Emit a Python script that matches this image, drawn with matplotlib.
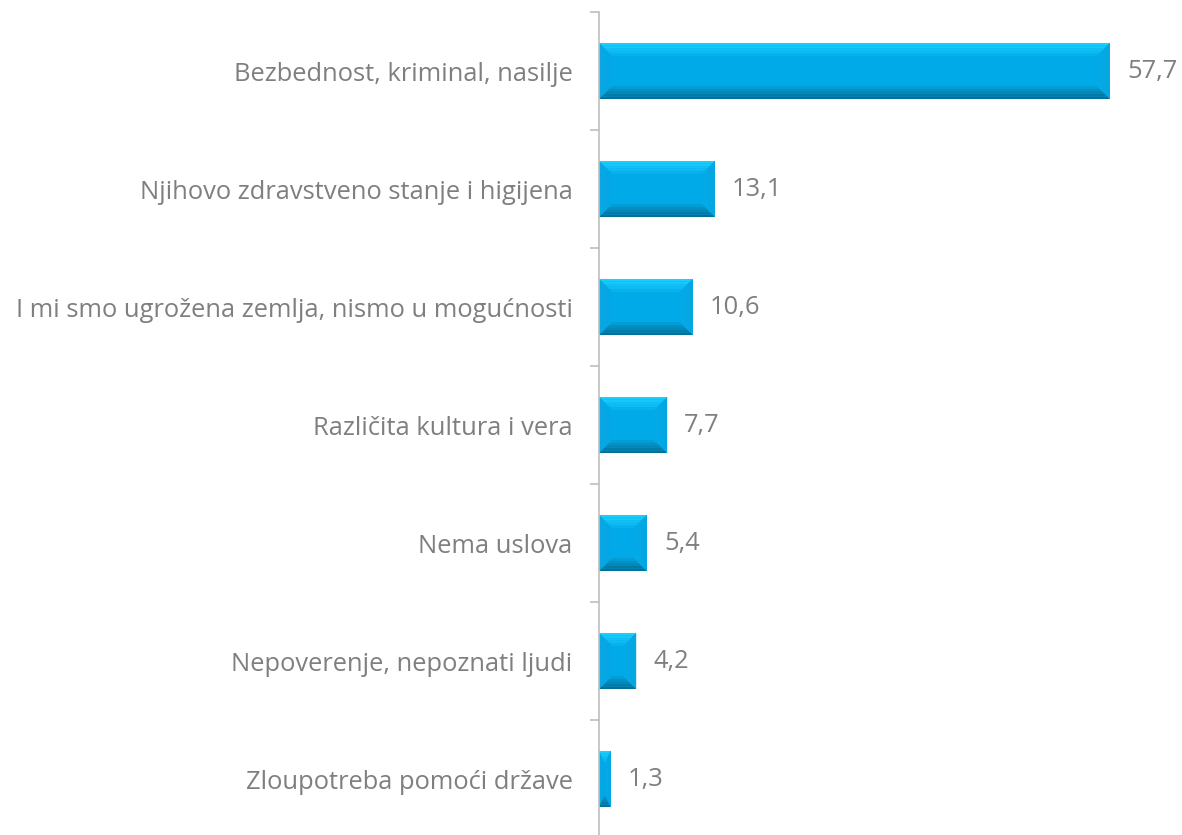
import matplotlib
matplotlib.use("Agg")
import matplotlib.pyplot as plt
from matplotlib.patches import Polygon
from matplotlib.colors import to_rgb
import numpy as np

categories = [
    "Bezbednost, kriminal, nasilje",
    "Njihovo zdravstveno stanje i higijena",
    "I mi smo ugrožena zemlja, nismo u mogućnosti",
    "Različita kultura i vera",
    "Nema uslova",
    "Nepoverenje, nepoznati ljudi",
    "Zloupotreba pomoći države",
]
values = [57.7, 13.1, 10.6, 7.7, 5.4, 4.2, 1.3]
value_labels = ["57,7", "13,1", "10,6", "7,7", "5,4", "4,2", "1,3"]

plt.rcParams['font.family'] = ['Open Sans', 'DejaVu Sans']
W, H = 1182, 835
fig = plt.figure(figsize=(W / 100, H / 100), dpi=100)
ax_left, ax_right = 599 / W, 1.0
ax_top, ax_bot = 1 - 12 / H, 1 - 838 / H
ax = fig.add_axes([ax_left, ax_bot, ax_right - ax_left, ax_top - ax_bot])
n = len(categories)
ypos = np.arange(n)
ax.set_ylim(n - 0.5, -0.5)
xmax = (W - 599) / (511 / 57.7)
ax.set_xlim(0, xmax)

bar_h = 0.475
main_c = "#00A9E8"
top_out, top_in = "#1CD2FF", "#06B0EB"
bot_out, bot_in = "#006A92", "#05A2DA"
left_out, left_in = "#0AA6E2", "#02A8E6"
right_out, right_in = "#06A6E0", "#03AAE8"

px_x = xmax / (W - 599)
px_y = n / (838 - 12)
bevel_px = 13
layers = 5


def mix(c1, c2, t):
    a, b = np.array(to_rgb(c1)), np.array(to_rgb(c2))
    return tuple(a + (b - a) * t)


bars = ax.barh(ypos, values, height=bar_h, color=main_c, edgecolor="none", zorder=2)
for b in bars:
    x0 = b.get_x(); w = b.get_width()
    y0 = b.get_y(); h = b.get_height()
    x1 = x0 + w; y1 = y0 + h
    bx = min(bevel_px * px_x, w / 2)
    by = min(bevel_px * px_y, h / 2)
    for k in range(layers):
        f0, f1 = k / layers, (k + 1) / layers
        t = (k + 0.5) / layers
        ax0, ax1 = x0 + bx * f0, x1 - bx * f0
        ay0, ay1 = y0 + by * f0, y1 - by * f0
        bx0, bx1 = x0 + bx * f1, x1 - bx * f1
        by0, by1 = y0 + by * f1, y1 - by * f1
        ax.add_patch(Polygon([(ax0, ay0), (ax1, ay0), (bx1, by0), (bx0, by0)],
                             facecolor=mix(top_out, top_in, t), edgecolor="none", zorder=3))
        ax.add_patch(Polygon([(ax0, ay1), (ax1, ay1), (bx1, by1), (bx0, by1)],
                             facecolor=mix(bot_out, bot_in, t), edgecolor="none", zorder=3))
        ax.add_patch(Polygon([(ax0, ay0), (bx0, by0), (bx0, by1), (ax0, ay1)],
                             facecolor=mix(left_out, left_in, t), edgecolor="none", zorder=3))
        ax.add_patch(Polygon([(ax1, ay0), (bx1, by0), (bx1, by1), (ax1, ay1)],
                             facecolor=mix(right_out, right_in, t), edgecolor="none", zorder=3))

text_c = "#7F7F7F"
fs = 18.4
for y, v, lab in zip(ypos, values, value_labels):
    ax.text(v + 17 * px_x, y, lab, va="center", ha="left", fontsize=fs, color=text_c)

ax.set_yticks(ypos)
ax.set_yticklabels(categories, fontsize=fs, color=text_c)
ax.set_yticks(np.arange(n + 1) - 0.5, minor=True)
ax.tick_params(axis="y", which="major", length=0, pad=19)
ax.tick_params(axis="y", which="minor", length=6.5, color="#BFBFBF", width=1.2)
ax.set_xticks([])
for s in ["top", "right", "bottom"]:
    ax.spines[s].set_visible(False)
ax.spines["left"].set_color("#BFBFBF")
ax.spines["left"].set_linewidth(1.2)
ax.spines["left"].set_zorder(4)

fig.savefig("out.png", dpi=100)
